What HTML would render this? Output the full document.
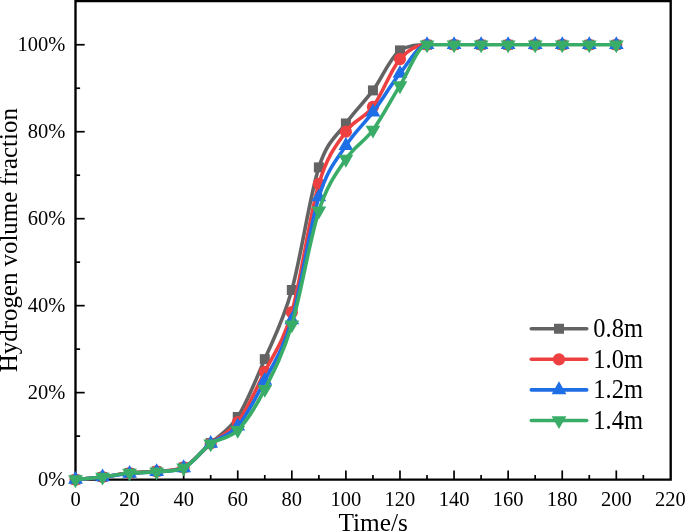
<!DOCTYPE html>
<html><head><meta charset="utf-8"><style>
html,body{margin:0;padding:0;background:#fff;}
body{width:685px;height:531px;overflow:hidden;font-family:"Liberation Serif",serif;}
svg{display:block;}
#w{will-change:transform;width:685px;height:531px;}
</style></head><body><div id="w">
<svg width="685" height="531" viewBox="0 0 685 531">
<rect width="685" height="531" fill="#fff"/>
<path d="M75.50,1.10 H670.70 V479.60 H75.50 Z" fill="none" stroke="#000" stroke-width="2.35"/>
<line x1="102.54" y1="479.60" x2="102.54" y2="475.00" stroke="#000" stroke-width="1.7"/>
<line x1="129.58" y1="479.60" x2="129.58" y2="470.40" stroke="#000" stroke-width="1.7"/>
<line x1="156.62" y1="479.60" x2="156.62" y2="475.00" stroke="#000" stroke-width="1.7"/>
<line x1="183.66" y1="479.60" x2="183.66" y2="470.40" stroke="#000" stroke-width="1.7"/>
<line x1="210.70" y1="479.60" x2="210.70" y2="475.00" stroke="#000" stroke-width="1.7"/>
<line x1="237.74" y1="479.60" x2="237.74" y2="470.40" stroke="#000" stroke-width="1.7"/>
<line x1="264.78" y1="479.60" x2="264.78" y2="475.00" stroke="#000" stroke-width="1.7"/>
<line x1="291.82" y1="479.60" x2="291.82" y2="470.40" stroke="#000" stroke-width="1.7"/>
<line x1="318.86" y1="479.60" x2="318.86" y2="475.00" stroke="#000" stroke-width="1.7"/>
<line x1="345.90" y1="479.60" x2="345.90" y2="470.40" stroke="#000" stroke-width="1.7"/>
<line x1="372.94" y1="479.60" x2="372.94" y2="475.00" stroke="#000" stroke-width="1.7"/>
<line x1="399.98" y1="479.60" x2="399.98" y2="470.40" stroke="#000" stroke-width="1.7"/>
<line x1="427.02" y1="479.60" x2="427.02" y2="475.00" stroke="#000" stroke-width="1.7"/>
<line x1="454.06" y1="479.60" x2="454.06" y2="470.40" stroke="#000" stroke-width="1.7"/>
<line x1="481.10" y1="479.60" x2="481.10" y2="475.00" stroke="#000" stroke-width="1.7"/>
<line x1="508.14" y1="479.60" x2="508.14" y2="470.40" stroke="#000" stroke-width="1.7"/>
<line x1="535.18" y1="479.60" x2="535.18" y2="475.00" stroke="#000" stroke-width="1.7"/>
<line x1="562.22" y1="479.60" x2="562.22" y2="470.40" stroke="#000" stroke-width="1.7"/>
<line x1="589.26" y1="479.60" x2="589.26" y2="475.00" stroke="#000" stroke-width="1.7"/>
<line x1="616.30" y1="479.60" x2="616.30" y2="470.40" stroke="#000" stroke-width="1.7"/>
<line x1="643.34" y1="479.60" x2="643.34" y2="475.00" stroke="#000" stroke-width="1.7"/>
<line x1="75.50" y1="436.12" x2="80.10" y2="436.12" stroke="#000" stroke-width="1.7"/>
<line x1="75.50" y1="392.63" x2="84.70" y2="392.63" stroke="#000" stroke-width="1.7"/>
<line x1="75.50" y1="349.15" x2="80.10" y2="349.15" stroke="#000" stroke-width="1.7"/>
<line x1="75.50" y1="305.66" x2="84.70" y2="305.66" stroke="#000" stroke-width="1.7"/>
<line x1="75.50" y1="262.18" x2="80.10" y2="262.18" stroke="#000" stroke-width="1.7"/>
<line x1="75.50" y1="218.69" x2="84.70" y2="218.69" stroke="#000" stroke-width="1.7"/>
<line x1="75.50" y1="175.21" x2="80.10" y2="175.21" stroke="#000" stroke-width="1.7"/>
<line x1="75.50" y1="131.72" x2="84.70" y2="131.72" stroke="#000" stroke-width="1.7"/>
<line x1="75.50" y1="88.24" x2="80.10" y2="88.24" stroke="#000" stroke-width="1.7"/>
<line x1="75.50" y1="44.75" x2="84.70" y2="44.75" stroke="#000" stroke-width="1.7"/>
<text x="75.50" y="505.6" font-size="20.5" text-anchor="middle" font-family="Liberation Serif, serif">0</text>
<text x="129.58" y="505.6" font-size="20.5" text-anchor="middle" font-family="Liberation Serif, serif">20</text>
<text x="183.66" y="505.6" font-size="20.5" text-anchor="middle" font-family="Liberation Serif, serif">40</text>
<text x="237.74" y="505.6" font-size="20.5" text-anchor="middle" font-family="Liberation Serif, serif">60</text>
<text x="291.82" y="505.6" font-size="20.5" text-anchor="middle" font-family="Liberation Serif, serif">80</text>
<text x="345.90" y="505.6" font-size="20.5" text-anchor="middle" font-family="Liberation Serif, serif">100</text>
<text x="399.98" y="505.6" font-size="20.5" text-anchor="middle" font-family="Liberation Serif, serif">120</text>
<text x="454.06" y="505.6" font-size="20.5" text-anchor="middle" font-family="Liberation Serif, serif">140</text>
<text x="508.14" y="505.6" font-size="20.5" text-anchor="middle" font-family="Liberation Serif, serif">160</text>
<text x="562.22" y="505.6" font-size="20.5" text-anchor="middle" font-family="Liberation Serif, serif">180</text>
<text x="616.30" y="505.6" font-size="20.5" text-anchor="middle" font-family="Liberation Serif, serif">200</text>
<text x="670.38" y="505.6" font-size="20.5" text-anchor="middle" font-family="Liberation Serif, serif">220</text>
<text x="65.3" y="485.75" font-size="20.5" text-anchor="end" font-family="Liberation Serif, serif">0%</text>
<text x="65.3" y="398.78" font-size="20.5" text-anchor="end" font-family="Liberation Serif, serif">20%</text>
<text x="65.3" y="311.81" font-size="20.5" text-anchor="end" font-family="Liberation Serif, serif">40%</text>
<text x="65.3" y="224.84" font-size="20.5" text-anchor="end" font-family="Liberation Serif, serif">60%</text>
<text x="65.3" y="137.87" font-size="20.5" text-anchor="end" font-family="Liberation Serif, serif">80%</text>
<text x="65.3" y="50.90" font-size="20.5" text-anchor="end" font-family="Liberation Serif, serif">100%</text>
<text x="373.1" y="530.8" font-size="25.3" text-anchor="middle" font-family="Liberation Serif, serif">Time/s</text>
<text transform="translate(17.2,240.2) rotate(-90)" x="0" y="0" font-size="24.9" text-anchor="middle" font-family="Liberation Serif, serif">Hydrogen volume fraction</text>
<path d="M75.50,479.60 C84.51,478.73 93.53,478.08 102.54,476.99 C111.55,475.90 120.57,474.02 129.58,473.08 C138.59,472.14 147.61,472.11 156.62,471.34 C165.63,470.57 174.65,471.26 183.66,467.42 C192.67,463.59 201.69,451.48 210.70,443.07 C219.71,434.67 228.73,430.97 237.74,416.98 C246.75,402.99 255.77,380.31 264.78,359.15 C273.79,337.98 282.81,321.97 291.82,290.01 C300.83,258.04 309.85,195.14 318.86,167.38 C327.87,139.62 336.89,136.29 345.90,123.46 C354.91,110.63 363.93,102.59 372.94,90.41 C381.95,78.23 390.97,56.06 399.98,50.40 C408.99,44.75 418.01,44.75 427.02,44.75" fill="none" stroke="#636363" stroke-width="3.6" stroke-linejoin="round"/>
<rect x="70.50" y="474.60" width="10" height="10" fill="#636363"/>
<rect x="97.54" y="471.99" width="10" height="10" fill="#636363"/>
<rect x="124.58" y="468.08" width="10" height="10" fill="#636363"/>
<rect x="151.62" y="466.34" width="10" height="10" fill="#636363"/>
<rect x="178.66" y="462.42" width="10" height="10" fill="#636363"/>
<rect x="205.70" y="438.07" width="10" height="10" fill="#636363"/>
<rect x="232.74" y="411.98" width="10" height="10" fill="#636363"/>
<rect x="259.78" y="354.15" width="10" height="10" fill="#636363"/>
<rect x="286.82" y="285.01" width="10" height="10" fill="#636363"/>
<rect x="313.86" y="162.38" width="10" height="10" fill="#636363"/>
<rect x="340.90" y="118.46" width="10" height="10" fill="#636363"/>
<rect x="367.94" y="85.41" width="10" height="10" fill="#636363"/>
<rect x="394.98" y="45.40" width="10" height="10" fill="#636363"/>
<rect x="422.02" y="39.75" width="10" height="10" fill="#636363"/>
<rect x="449.06" y="39.75" width="10" height="10" fill="#636363"/>
<rect x="476.10" y="39.75" width="10" height="10" fill="#636363"/>
<rect x="503.14" y="39.75" width="10" height="10" fill="#636363"/>
<rect x="530.18" y="39.75" width="10" height="10" fill="#636363"/>
<rect x="557.22" y="39.75" width="10" height="10" fill="#636363"/>
<rect x="584.26" y="39.75" width="10" height="10" fill="#636363"/>
<rect x="611.30" y="39.75" width="10" height="10" fill="#636363"/>
<path d="M75.50,479.60 C84.51,478.73 93.53,478.08 102.54,476.99 C111.55,475.90 120.57,474.02 129.58,473.08 C138.59,472.14 147.61,472.12 156.62,471.34 C165.63,470.56 174.65,471.26 183.66,467.42 C192.67,463.59 201.69,451.04 210.70,443.51 C219.71,435.97 228.73,434.16 237.74,422.20 C246.75,410.24 255.77,390.09 264.78,371.76 C273.79,353.42 282.81,343.49 291.82,312.18 C300.83,280.87 309.85,213.98 318.86,183.90 C327.87,153.82 336.89,144.55 345.90,131.72 C354.91,118.89 363.93,119.04 372.94,106.93 C381.95,94.83 390.97,69.46 399.98,59.10 C408.99,48.74 418.01,44.75 427.02,44.75" fill="none" stroke="#ee4040" stroke-width="3.6" stroke-linejoin="round"/>
<circle cx="75.50" cy="479.60" r="6.1" fill="#ee4040"/>
<circle cx="102.54" cy="476.99" r="6.1" fill="#ee4040"/>
<circle cx="129.58" cy="473.08" r="6.1" fill="#ee4040"/>
<circle cx="156.62" cy="471.34" r="6.1" fill="#ee4040"/>
<circle cx="183.66" cy="467.42" r="6.1" fill="#ee4040"/>
<circle cx="210.70" cy="443.51" r="6.1" fill="#ee4040"/>
<circle cx="237.74" cy="422.20" r="6.1" fill="#ee4040"/>
<circle cx="264.78" cy="371.76" r="6.1" fill="#ee4040"/>
<circle cx="291.82" cy="312.18" r="6.1" fill="#ee4040"/>
<circle cx="318.86" cy="183.90" r="6.1" fill="#ee4040"/>
<circle cx="345.90" cy="131.72" r="6.1" fill="#ee4040"/>
<circle cx="372.94" cy="106.93" r="6.1" fill="#ee4040"/>
<circle cx="399.98" cy="59.10" r="6.1" fill="#ee4040"/>
<circle cx="427.02" cy="44.75" r="6.1" fill="#ee4040"/>
<circle cx="454.06" cy="44.75" r="6.1" fill="#ee4040"/>
<circle cx="481.10" cy="44.75" r="6.1" fill="#ee4040"/>
<circle cx="508.14" cy="44.75" r="6.1" fill="#ee4040"/>
<circle cx="535.18" cy="44.75" r="6.1" fill="#ee4040"/>
<circle cx="562.22" cy="44.75" r="6.1" fill="#ee4040"/>
<circle cx="589.26" cy="44.75" r="6.1" fill="#ee4040"/>
<circle cx="616.30" cy="44.75" r="6.1" fill="#ee4040"/>
<path d="M75.50,479.60 C84.51,478.73 93.53,478.01 102.54,476.99 C111.55,475.98 120.57,474.38 129.58,473.51 C138.59,472.64 147.61,472.54 156.62,471.77 C165.63,471.01 174.65,471.70 183.66,467.86 C192.67,464.02 201.69,450.47 210.70,443.51 C219.71,436.55 228.73,436.62 237.74,426.11 C246.75,415.60 255.77,398.14 264.78,380.45 C273.79,362.77 282.81,350.59 291.82,320.01 C300.83,289.43 309.85,226.01 318.86,196.95 C327.87,167.89 336.89,159.77 345.90,145.64 C354.91,131.50 363.93,124.18 372.94,112.15 C381.95,100.12 390.97,84.68 399.98,73.45 C408.99,62.22 418.01,44.75 427.02,44.75" fill="none" stroke="#1e6ee6" stroke-width="3.6" stroke-linejoin="round"/>
<polygon points="75.50,471.07 68.10,483.87 82.90,483.87" fill="#1e6ee6"/>
<polygon points="102.54,468.46 95.14,481.26 109.94,481.26" fill="#1e6ee6"/>
<polygon points="129.58,464.98 122.18,477.78 136.98,477.78" fill="#1e6ee6"/>
<polygon points="156.62,463.24 149.22,476.04 164.02,476.04" fill="#1e6ee6"/>
<polygon points="183.66,459.33 176.26,472.13 191.06,472.13" fill="#1e6ee6"/>
<polygon points="210.70,434.97 203.30,447.77 218.10,447.77" fill="#1e6ee6"/>
<polygon points="237.74,417.58 230.34,430.38 245.14,430.38" fill="#1e6ee6"/>
<polygon points="264.78,371.92 257.38,384.72 272.18,384.72" fill="#1e6ee6"/>
<polygon points="291.82,311.48 284.42,324.28 299.22,324.28" fill="#1e6ee6"/>
<polygon points="318.86,188.41 311.46,201.21 326.26,201.21" fill="#1e6ee6"/>
<polygon points="345.90,137.10 338.50,149.90 353.30,149.90" fill="#1e6ee6"/>
<polygon points="372.94,103.62 365.54,116.42 380.34,116.42" fill="#1e6ee6"/>
<polygon points="399.98,64.92 392.58,77.72 407.38,77.72" fill="#1e6ee6"/>
<polygon points="427.02,36.22 419.62,49.02 434.42,49.02" fill="#1e6ee6"/>
<polygon points="454.06,36.22 446.66,49.02 461.46,49.02" fill="#1e6ee6"/>
<polygon points="481.10,36.22 473.70,49.02 488.50,49.02" fill="#1e6ee6"/>
<polygon points="508.14,36.22 500.74,49.02 515.54,49.02" fill="#1e6ee6"/>
<polygon points="535.18,36.22 527.78,49.02 542.58,49.02" fill="#1e6ee6"/>
<polygon points="562.22,36.22 554.82,49.02 569.62,49.02" fill="#1e6ee6"/>
<polygon points="589.26,36.22 581.86,49.02 596.66,49.02" fill="#1e6ee6"/>
<polygon points="616.30,36.22 608.90,49.02 623.70,49.02" fill="#1e6ee6"/>
<path d="M75.50,479.60 C84.51,478.73 93.53,478.08 102.54,476.99 C111.55,475.90 120.57,473.95 129.58,473.08 C138.59,472.21 147.61,472.49 156.62,471.77 C165.63,471.06 174.65,471.71 183.66,467.86 C192.67,464.01 201.69,449.99 210.70,443.72 C219.71,437.46 228.73,439.34 237.74,430.24 C246.75,421.15 255.77,406.73 264.78,389.15 C273.79,371.58 282.81,354.51 291.82,324.79 C300.83,295.08 309.85,238.48 318.86,210.86 C327.87,183.25 336.89,172.60 345.90,159.12 C354.91,145.64 363.93,142.23 372.94,129.98 C381.95,117.73 390.97,99.83 399.98,85.63 C408.99,71.42 418.01,44.75 427.02,44.75 C436.03,44.75 445.05,44.75 454.06,44.75 C463.07,44.75 472.09,44.75 481.10,44.75 C490.11,44.75 499.13,44.75 508.14,44.75 C517.15,44.75 526.17,44.75 535.18,44.75 C544.19,44.75 553.21,44.75 562.22,44.75 C571.23,44.75 580.25,44.75 589.26,44.75 C598.27,44.75 607.29,44.75 616.30,44.75" fill="none" stroke="#39ac68" stroke-width="3.6" stroke-linejoin="round"/>
<polygon points="75.50,488.13 68.10,475.33 82.90,475.33" fill="#39ac68"/>
<polygon points="102.54,485.52 95.14,472.72 109.94,472.72" fill="#39ac68"/>
<polygon points="129.58,481.61 122.18,468.81 136.98,468.81" fill="#39ac68"/>
<polygon points="156.62,480.31 149.22,467.51 164.02,467.51" fill="#39ac68"/>
<polygon points="183.66,476.39 176.26,463.59 191.06,463.59" fill="#39ac68"/>
<polygon points="210.70,452.26 203.30,439.46 218.10,439.46" fill="#39ac68"/>
<polygon points="237.74,438.78 230.34,425.98 245.14,425.98" fill="#39ac68"/>
<polygon points="264.78,397.68 257.38,384.88 272.18,384.88" fill="#39ac68"/>
<polygon points="291.82,333.33 284.42,320.53 299.22,320.53" fill="#39ac68"/>
<polygon points="318.86,219.40 311.46,206.60 326.26,206.60" fill="#39ac68"/>
<polygon points="345.90,167.65 338.50,154.85 353.30,154.85" fill="#39ac68"/>
<polygon points="372.94,138.51 365.54,125.71 380.34,125.71" fill="#39ac68"/>
<polygon points="399.98,94.16 392.58,81.36 407.38,81.36" fill="#39ac68"/>
<polygon points="427.02,53.28 419.62,40.48 434.42,40.48" fill="#39ac68"/>
<polygon points="454.06,53.28 446.66,40.48 461.46,40.48" fill="#39ac68"/>
<polygon points="481.10,53.28 473.70,40.48 488.50,40.48" fill="#39ac68"/>
<polygon points="508.14,53.28 500.74,40.48 515.54,40.48" fill="#39ac68"/>
<polygon points="535.18,53.28 527.78,40.48 542.58,40.48" fill="#39ac68"/>
<polygon points="562.22,53.28 554.82,40.48 569.62,40.48" fill="#39ac68"/>
<polygon points="589.26,53.28 581.86,40.48 596.66,40.48" fill="#39ac68"/>
<polygon points="616.30,53.28 608.90,40.48 623.70,40.48" fill="#39ac68"/>
<line x1="531.3" y1="328.75" x2="586.7" y2="328.75" stroke="#636363" stroke-width="3.6" stroke-linecap="round"/>
<rect x="554.00" y="323.75" width="10" height="10" fill="#636363"/>
<text transform="translate(593.3,337.00) scale(1,1.12)" font-size="24.5" font-family="Liberation Serif, serif">0.8m</text>
<line x1="531.3" y1="359.32" x2="586.7" y2="359.32" stroke="#ee4040" stroke-width="3.6" stroke-linecap="round"/>
<circle cx="559.00" cy="359.32" r="6.1" fill="#ee4040"/>
<text transform="translate(593.3,367.57) scale(1,1.12)" font-size="24.5" font-family="Liberation Serif, serif">1.0m</text>
<line x1="531.3" y1="389.89" x2="586.7" y2="389.89" stroke="#1e6ee6" stroke-width="3.6" stroke-linecap="round"/>
<polygon points="559.00,381.36 551.60,394.16 566.40,394.16" fill="#1e6ee6"/>
<text transform="translate(593.3,398.14) scale(1,1.12)" font-size="24.5" font-family="Liberation Serif, serif">1.2m</text>
<line x1="531.3" y1="420.46" x2="586.7" y2="420.46" stroke="#39ac68" stroke-width="3.6" stroke-linecap="round"/>
<polygon points="559.00,428.99 551.60,416.19 566.40,416.19" fill="#39ac68"/>
<text transform="translate(593.3,428.71) scale(1,1.12)" font-size="24.5" font-family="Liberation Serif, serif">1.4m</text>
</svg></div>
</body></html>
